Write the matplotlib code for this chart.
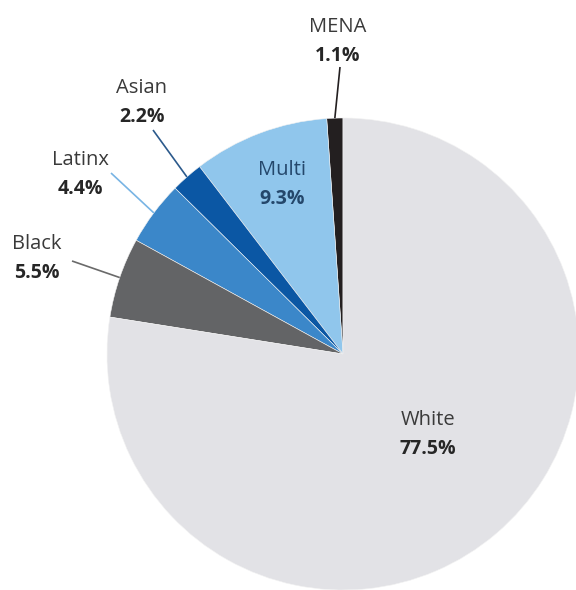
import numpy as np
import matplotlib.pyplot as plt

groups = ["MENA", "Multi", "Asian", "Latinx", "Black", "White"]
shares = [1.1, 9.3, 2.2, 4.4, 5.5, 77.5]
colors = ["#231f20", "#90c6ec", "#0b57a4", "#3b87c9", "#636466", "#e2e2e6"]

# label placement in pixel space (y from top)
label_pos = {"MENA": (338, 27), "Multi": (282, 170), "Asian": (142, 88),
             "Latinx": (80, 160), "Black": (37, 244), "White": (428, 420)}
line_start = {"MENA": (340, 67), "Asian": (153, 130), "Latinx": (111, 173),
              "Black": (72, 261)}
line_color = {"MENA": "#231f20", "Asian": "#2c5a8c", "Latinx": "#78b4e4",
              "Black": "#6a6a6a"}
text_color = {"Multi": "#24476b"}

W, H = 576, 590
cx, cy, r = 343, 354, 236

plt.rcParams["font.family"] = ["Open Sans", "DejaVu Sans"]

fig = plt.figure(figsize=(W / 100, H / 100), dpi=100)
ax = fig.add_axes([0, 0, 1, 1])

wedges, _ = ax.pie(shares, colors=colors, startangle=90, counterclock=True,
                   center=(cx, H - cy), radius=r,
                   wedgeprops=dict(edgecolor="#f2f2f2", linewidth=0.4))
ax.set_xlim(0, W)
ax.set_ylim(0, H)
ax.set_aspect("equal")
ax.axis("off")

for name, val, w in zip(groups, shares, wedges):
    x, y = label_pos[name]
    c = text_color.get(name, "#3a3a3a")
    ax.text(x, H - y, name, ha="center", va="center", fontsize=14.5, color=c)
    ax.text(x, H - y - 29, f"{val}%", ha="center", va="center", fontsize=14,
            fontweight="bold", color=text_color.get(name, "#262626"))
    if name in line_start:
        mid = np.deg2rad((w.theta1 + w.theta2) / 2)
        ex = cx + r * np.cos(mid)
        ey = (H - cy) + r * np.sin(mid)
        sx, sy = line_start[name]
        ax.plot([sx, ex], [H - sy, ey], color=line_color[name], lw=1.2,
                solid_capstyle="butt")

fig.savefig("out.png", dpi=100)
